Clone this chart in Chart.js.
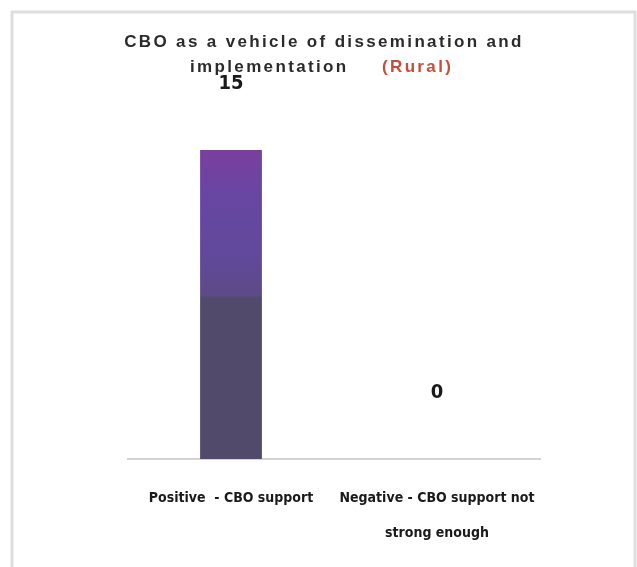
<!DOCTYPE html>
<html>
<head>
<meta charset="utf-8">
<script src="https://cdn.jsdelivr.net/npm/chart.js@4/dist/chart.umd.min.js"></script>
<style>
html,body{margin:0;padding:0;background:#fff;overflow:hidden;}
#wrap{width:637px;height:567px;position:relative;overflow:hidden;}
canvas{position:absolute;left:0;top:0;}
</style>
</head>
<body>
<div id="wrap"><canvas id="c" width="637" height="581"></canvas></div>
<script>
const categories = [["Positive  - CBO support"], ["Negative - CBO support not", "strong enough"]];
const values = [15, 0];
const titleLine1 = "CBO as a vehicle of dissemination and";
const titleLine2a = "implementation";
const titleLine2b = "(Rural)";

const labelFont = "'Liberation Sans Narrow','DejaVu Sans Condensed','Roboto Condensed','Arial Narrow',sans-serif";

const decor = {
  id: 'decor',
  beforeDraw(chart) {
    const ctx = chart.ctx;
    ctx.save();
    ctx.strokeStyle = '#dedede';
    ctx.lineWidth = 3;
    ctx.strokeRect(12, 12, 623, 640);
    ctx.restore();
  },
  afterDraw(chart) {
    const ctx = chart.ctx;
    ctx.save();
    ctx.font = "bold 17px 'Liberation Sans', Arial, sans-serif";
    ctx.letterSpacing = '2.35px';
    ctx.textBaseline = 'middle';
    ctx.fillStyle = '#2b2b2b';
    ctx.textAlign = 'center';
    ctx.fillText(titleLine1, 324, 42);
    ctx.textAlign = 'left';
    ctx.fillText(titleLine2a, 190, 67);
    ctx.fillStyle = '#c2503d';
    ctx.fillText(titleLine2b, 382, 67);
    ctx.restore();

    // value labels
    const meta = chart.getDatasetMeta(0);
    ctx.save();
    ctx.font = "bold 20px " + labelFont;
    ctx.fillStyle = '#1a1a1a';
    ctx.textAlign = 'center';
    ctx.textBaseline = 'middle';
    meta.data.forEach((bar, i) => {
      ctx.fillText(String(values[i]), bar.x, bar.y - 66);
    });
    ctx.restore();
  }
};

const ctx = document.getElementById('c').getContext('2d');
const grad = ctx.createLinearGradient(0, 150, 0, 459);
grad.addColorStop(0, '#7a3f9e');
grad.addColorStop(0.15, '#6746a2');
grad.addColorStop(0.35, '#61499a');
grad.addColorStop(0.47, '#5c4b86');
grad.addColorStop(0.48, '#524a6b');
grad.addColorStop(1, '#524a6b');

new Chart(ctx, {
  type: 'bar',
  data: {
    labels: categories,
    datasets: [{
      data: values,
      backgroundColor: grad,
      borderWidth: 0,
      categoryPercentage: 1,
      barPercentage: 0.3
    }]
  },
  plugins: [decor],
  options: {
    responsive: false,
    animation: false,
    layout: { padding: { top: 150, left: 128, right: 97, bottom: 8 } },
    plugins: { legend: { display: false }, tooltip: { enabled: false }, title: { display: false } },
    scales: {
      y: { display: false, min: 0, max: 15 },
      x: {
        grid: { display: false, drawTicks: false },
        border: { display: true, color: '#d4d4d4', width: 2 },
        ticks: {
          color: '#1a1a1a',
          padding: 22,
          maxRotation: 0,
          autoSkip: false,
          font: { family: labelFont, size: 14, weight: 'bold', lineHeight: 2.5 }
        }
      }
    }
  }
});
</script>
</body>
</html>
